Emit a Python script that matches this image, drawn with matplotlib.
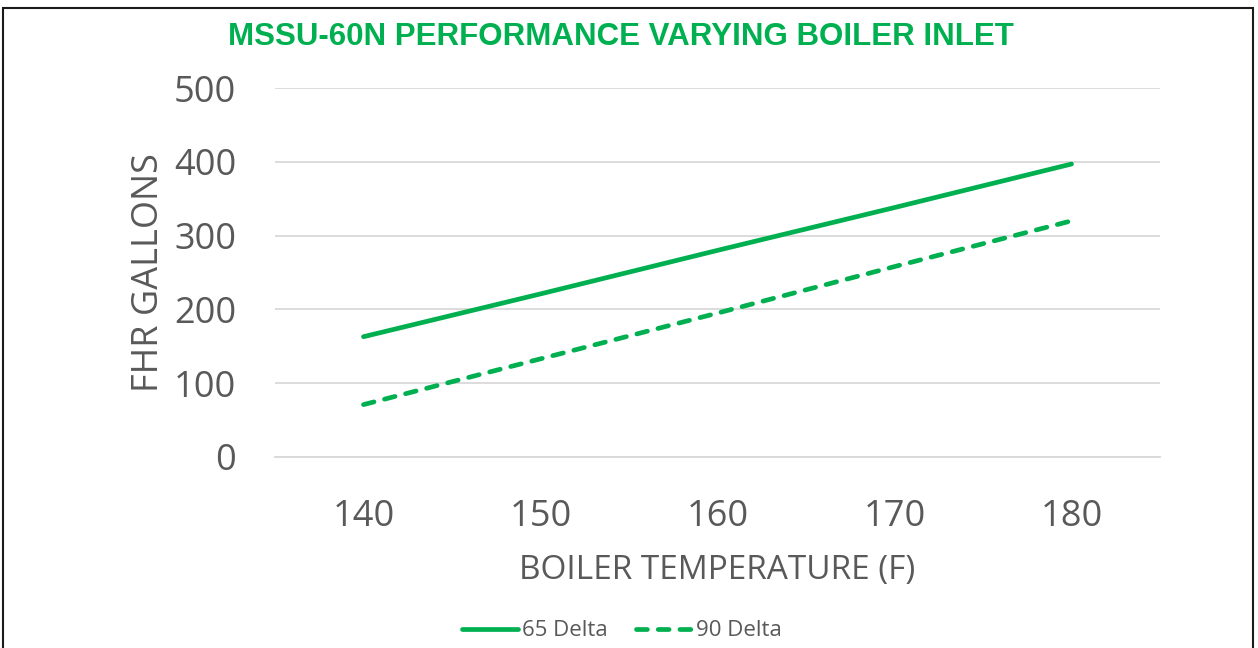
import matplotlib
matplotlib.use("Agg")
import matplotlib.pyplot as plt
from matplotlib.patches import Rectangle

categories = ["140", "150", "160", "170", "180"]
delta65 = [163, 221, 280, 338, 397]
delta90 = [71, 133, 195, 258, 320]
yticks = [0, 100, 200, 300, 400, 500]

GREEN = "#00B050"
GREY = "#595959"
plt.rcParams['font.family'] = ['Open Sans', 'DejaVu Sans']

fig = plt.figure(figsize=(12.58, 6.48), dpi=100)
ax = fig.add_axes([275/1258, 1-457/648, 885/1258, (457-88)/648])

x = list(range(len(categories)))
ax.plot(x, delta65, color=GREEN, lw=3.4, solid_capstyle='round', label="65 Delta")
ax.plot(x, delta90, color=GREEN, lw=3.4, linestyle=(0, (2.3, 2.3)),
        dash_capstyle='round', label="90 Delta")

ax.set_xlim(-0.5, len(categories)-0.5)
ax.set_ylim(0, 500)
ax.set_yticks(yticks)
ax.set_xticks(x)
ax.set_xticklabels(categories)
ax.grid(axis='y', color='#D9D9D9', lw=1.3)
ax.set_axisbelow(True)
for s in ['top', 'right', 'left']:
    ax.spines[s].set_visible(False)
ax.spines['bottom'].set_color('#D9D9D9')
ax.spines['bottom'].set_linewidth(1.3)
ax.tick_params(axis='both', length=0, labelsize=26, labelcolor=GREY)
ax.tick_params(axis='y', pad=28)
ax.tick_params(axis='x', pad=30)

ax.set_xlabel("BOILER TEMPERATURE (F)", fontsize=24, color=GREY, labelpad=14)
ax.set_ylabel("FHR GALLONS", fontsize=26, color=GREY, labelpad=5)

fig.text(621/1258, 1-37/648, "MSSU-60N PERFORMANCE VARYING BOILER INLET",
         ha='center', va='center', fontsize=22.5, fontweight='bold', color=GREEN,
         family=['Liberation Sans', 'DejaVu Sans'])

leg = fig.legend(loc='center', bbox_to_anchor=(622/1258, 1-631/648), ncol=2,
                 frameon=False, fontsize=16, handlelength=2.5, columnspacing=1.25,
                 handletextpad=0.2)
for t in leg.get_texts():
    t.set_color(GREY)

fig.patches.append(Rectangle((3/1258, -0.1), (1253-3)/1258, 1.1-8/648,
                             transform=fig.transFigure, fill=False,
                             edgecolor='#1a1a1a', lw=1.5))

fig.savefig("out.png", dpi=100)
